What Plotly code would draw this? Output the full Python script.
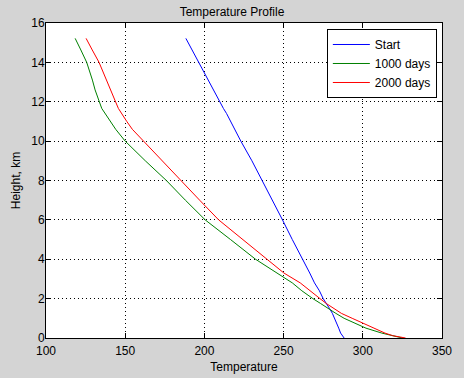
import plotly.graph_objects as go

height_km = [0, 0.12, 0.25, 0.5, 0.75, 1.0, 1.25, 1.5, 1.75, 2, 2.4, 2.8, 3.3, 4, 5, 6, 7, 8, 9, 10,
             10.6, 11.0, 11.4, 11.66, 12.04, 12.6, 13.1, 13.53, 14.0, 14.63, 15.22]
temp_start = [288.2, 287, 286, 284.8, 283.5, 282.3, 280.8, 279, 277, 275, 272.6, 269.5, 266.5, 261.8, 255.5,
              249.3, 243, 236.5, 230, 223, 219.3, 216.5, 214, 212, 209.5, 206, 202.5, 199.5, 196.8, 192.5, 188.3]
temp_1000 = [325, 317.7, 312, 302, 294.5, 288.2, 283, 277.8, 273.4, 268.5, 261.5, 255.5, 246, 232.3, 216.5,
             200.5, 188, 176, 162.7, 150, 144, 140.5, 137.3, 135.2, 133.5, 131, 129.3, 127.4, 125.7, 122, 118.4]
temp_2000 = [327, 318.8, 314, 306.8, 300.2, 293.3, 286.5, 281.5, 277, 273, 266.5, 260.5, 250.2, 239.7, 224.5,
             209, 197, 185.2, 173.2, 161, 154.5, 151, 147.8, 145.7, 143.7, 140.7, 138.4, 135.9, 133.5, 129.2, 125.3]

series_names = ["Start", "1000 days", "2000 days"]
series_colors = ["#0000ff", "#008000", "#ff0000"]
x_ticks = [100, 150, 200, 250, 300, 350]
y_ticks = [0, 2, 4, 6, 8, 10, 12, 14, 16]

font = dict(family="Liberation Sans, Arial, sans-serif", size=12, color="black")

fig = go.Figure()
for name, temps, col in zip(series_names, [temp_start, temp_1000, temp_2000], series_colors):
    fig.add_trace(go.Scatter(x=temps, y=height_km, mode="lines", name=name,
                             line=dict(color=col, width=1)))

axis_common = dict(showline=True, linecolor="black", linewidth=1, mirror="ticks",
                   ticks="inside", ticklen=5, tickcolor="black",
                   showgrid=True, gridcolor="black", gridwidth=1, griddash="1px,3px",
                   zeroline=False, tickfont=font, automargin=False)

fig.update_layout(
    width=464, height=378,
    paper_bgcolor="#d4d4d4", plot_bgcolor="white",
    margin=dict(l=46, r=22, t=23, b=40),
    font=font,
    title=dict(text="Temperature Profile", x=0.5, xanchor="center", y=1 - 12 / 378, yanchor="middle",
               font=font),
    xaxis=dict(range=[100, 350], tickvals=x_ticks, ticklabelstandoff=2,
               title=dict(text="Temperature", font=font, standoff=5), **axis_common),
    yaxis=dict(range=[0, 16], tickvals=y_ticks, ticklabelstandoff=-2,
               title=dict(text="Height, km", font=font, standoff=8), **axis_common),
    legend=dict(x=0.987, y=0.981, xanchor="right", yanchor="top",
                bgcolor="white", bordercolor="black", borderwidth=1,
                font=font, itemwidth=37),
    showlegend=True,
)

fig.write_html("out.html", config={"displayModeBar": False},
               post_script="document.body.style.margin='0';")
